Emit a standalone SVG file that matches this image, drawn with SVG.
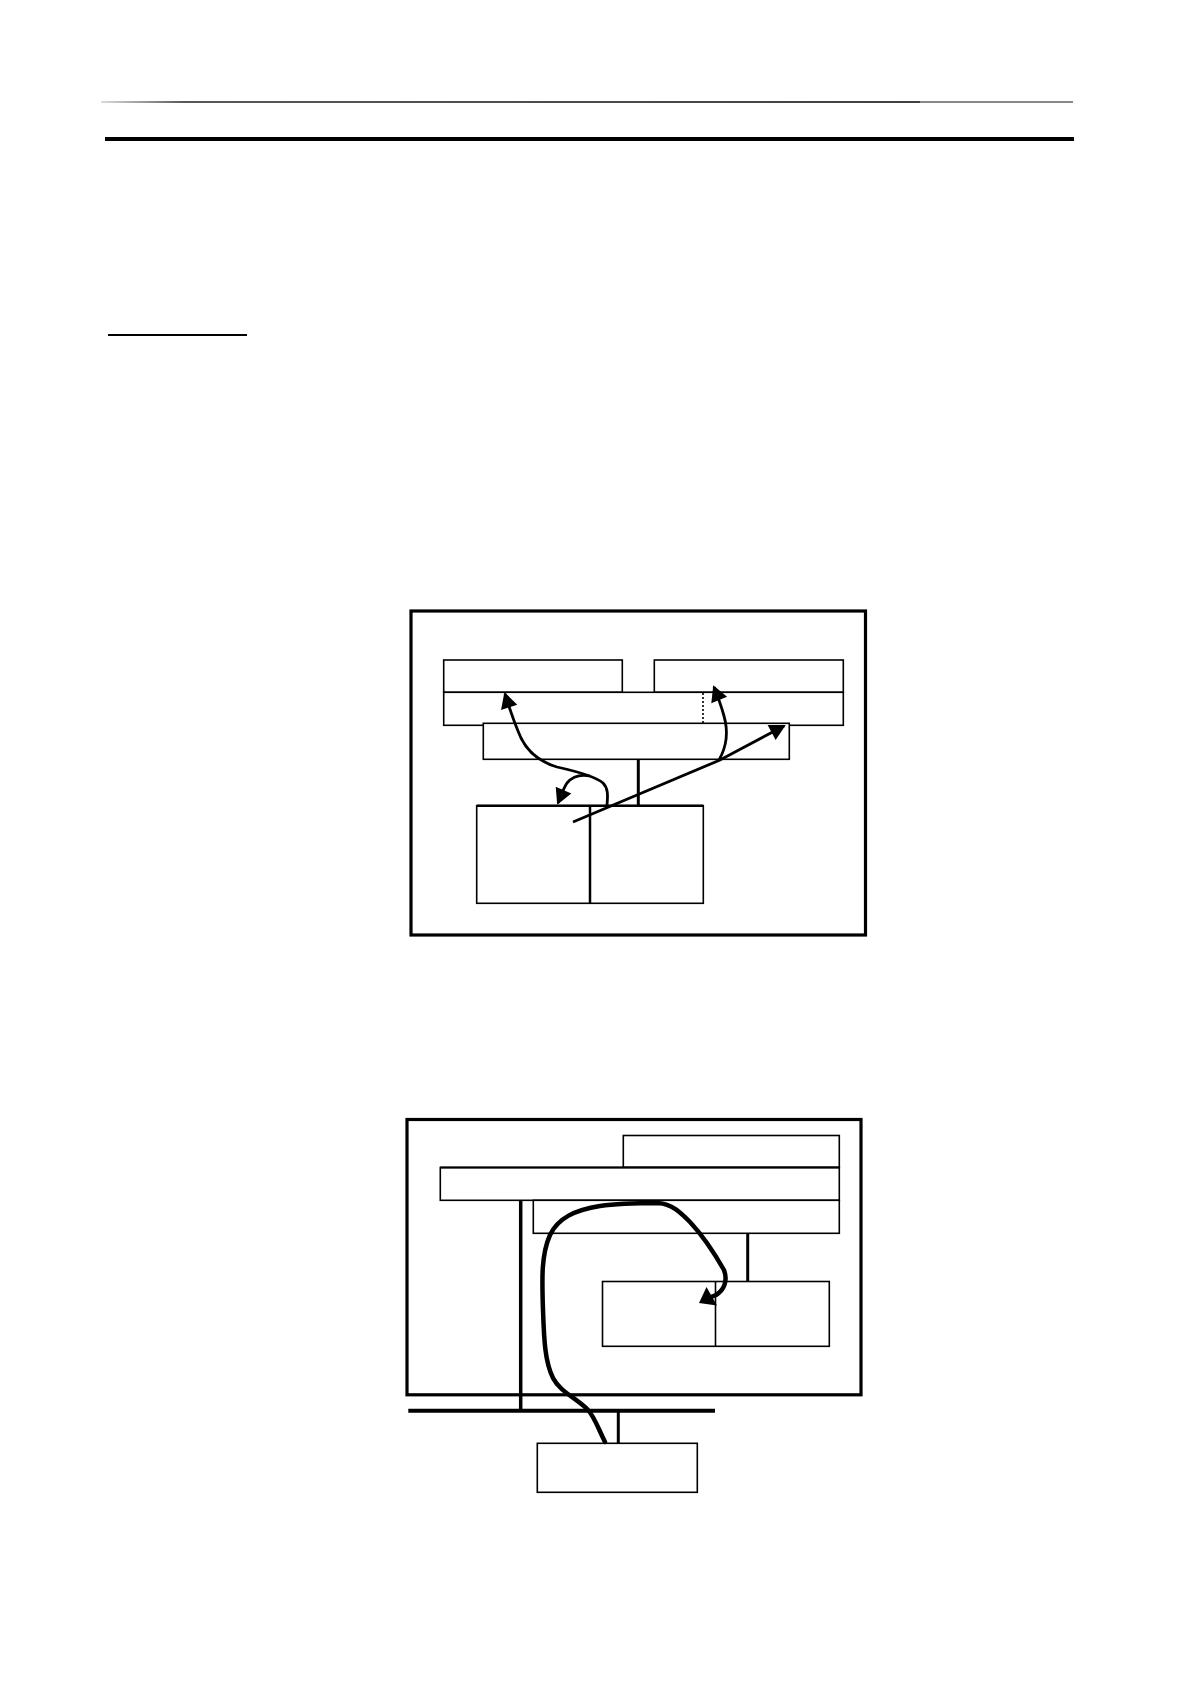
<svg xmlns="http://www.w3.org/2000/svg" width="1190" height="1684" viewBox="0 0 1190 1684">
<style>
.box{fill:#fff;stroke:#000;stroke-width:1.6}
.frame{fill:none;stroke:#000;stroke-width:3.2}
.thick{stroke:#000;stroke-width:3;fill:none}
.arr{fill:none;stroke:#000;stroke-width:2.8}
.arr2{fill:none;stroke:#000;stroke-width:4.5;stroke-linecap:round}
</style>
<defs>
<linearGradient id="rule" x1="101" y1="0" x2="1073" y2="0" gradientUnits="userSpaceOnUse">
<stop offset="0" stop-color="#d0d0d0"/>
<stop offset="0.086" stop-color="#202020"/>
<stop offset="0.842" stop-color="#000"/>
<stop offset="0.843" stop-color="#606060"/>
<stop offset="1" stop-color="#606060"/>
</linearGradient>
<marker id="ah" markerUnits="userSpaceOnUse" markerWidth="18" markerHeight="17" refX="14" refY="8.5" orient="auto" overflow="visible">
<path d="M0,0 L16,8.5 L0,17 Z" fill="#000"/>
</marker>
</defs>
<rect width="1190" height="1684" fill="#fff"/>

<g id="header">
<line x1="101" y1="102" x2="1073" y2="102" stroke="url(#rule)" stroke-width="1.6"/>
<line x1="105" y1="139" x2="1074" y2="139" stroke="#000" stroke-width="4"/>
<line x1="108" y1="335" x2="247" y2="335" stroke="#000" stroke-width="2"/>
</g>

<g id="diagram1">
<rect id="d1-frame" class="frame" x="411" y="611" width="454.5" height="324"/>
<rect id="d1-topleft" class="box" x="443.7" y="660" width="178.6" height="32.3"/>
<rect id="d1-topright" class="box" x="654.3" y="660" width="189" height="32.3"/>
<rect id="d1-widebar" class="box" x="443.7" y="692.3" width="399.6" height="33"/>
<line id="d1-dotted" x1="703" y1="693" x2="703" y2="725" stroke="#000" stroke-width="1.6" stroke-dasharray="2,2"/>
<rect id="d1-midbar" class="box" x="483.3" y="723.3" width="306" height="36"/>
<g id="d1-bottom">
<rect class="box" x="476.7" y="805.7" width="226.6" height="97.6"/>
<line x1="476.7" y1="805.7" x2="703.3" y2="805.7" stroke="#000" stroke-width="2.5"/>
<line x1="590" y1="805.7" x2="590" y2="903.3" stroke="#000" stroke-width="2.5"/>
</g>
</g>

<g id="diagram2">
<rect id="d2-frame" class="frame" x="407" y="1119.5" width="454" height="275.3"/>
<rect id="d2-topright" class="box" x="623.3" y="1135.5" width="216" height="32"/>
<rect id="d2-widebar" class="box" x="440.3" y="1167.5" width="399" height="32.8"/>
<line x1="440.3" y1="1167.5" x2="839.3" y2="1167.5" stroke="#000" stroke-width="2.2"/>
<rect id="d2-midbar" class="box" x="533.3" y="1200.3" width="306" height="33"/>
<g id="d2-bottom">
<rect class="box" x="602.5" y="1281.5" width="226.8" height="64.8"/>
<line x1="715.5" y1="1281.5" x2="715.5" y2="1346.3" stroke="#000" stroke-width="1.6"/>
</g>
<rect id="d2-external" class="box" x="537.3" y="1443.3" width="160" height="49"/>
</g>

<g id="connectors">
<line class="thick" x1="638.3" y1="759.3" x2="638.3" y2="805.7"/>
<path class="arr" d="M607,805 C608,795 608,788 603,783 C595,776 575,771 557,767 C540,762 528,752 521,738 C515,725 510,710 505,694" marker-end="url(#ah)"/>
<path class="arr" d="M590,776 C580,774 572,777 567,783 C563,789 561,796 558,803" marker-end="url(#ah)"/>
<path class="arr" d="M573,822 L720,760 L784,726" marker-end="url(#ah)"/>
<path class="arr" d="M719,760 C727,746 728,730 724,716 C721,705 718,697 714,687" marker-end="url(#ah)"/>

<line class="thick" x1="747.7" y1="1233.3" x2="747.7" y2="1281.5"/>
<line x1="520.7" y1="1200.3" x2="520.7" y2="1410.7" stroke="#000" stroke-width="3.5"/>
<line x1="408.3" y1="1410.7" x2="715" y2="1410.7" stroke="#000" stroke-width="4"/>
<line class="thick" x1="618.3" y1="1410.7" x2="618.3" y2="1443.3"/>
<path class="arr2" d="M605,1442 C598,1428 594,1416 588,1410 C578,1399 560,1392 553,1378 C545,1362 544,1340 543,1310 C542,1280 541,1255 550,1235 C558,1218 575,1210 600,1206 C620,1203 645,1203 658,1203 C672,1204 680,1212 690,1222 C705,1238 716,1256 724,1270 C728,1281 724,1290 716,1295 L711,1297"/>
<polygon points="699,1303 706.5,1287 717,1305.5" fill="#000"/>
</g>
</svg>
